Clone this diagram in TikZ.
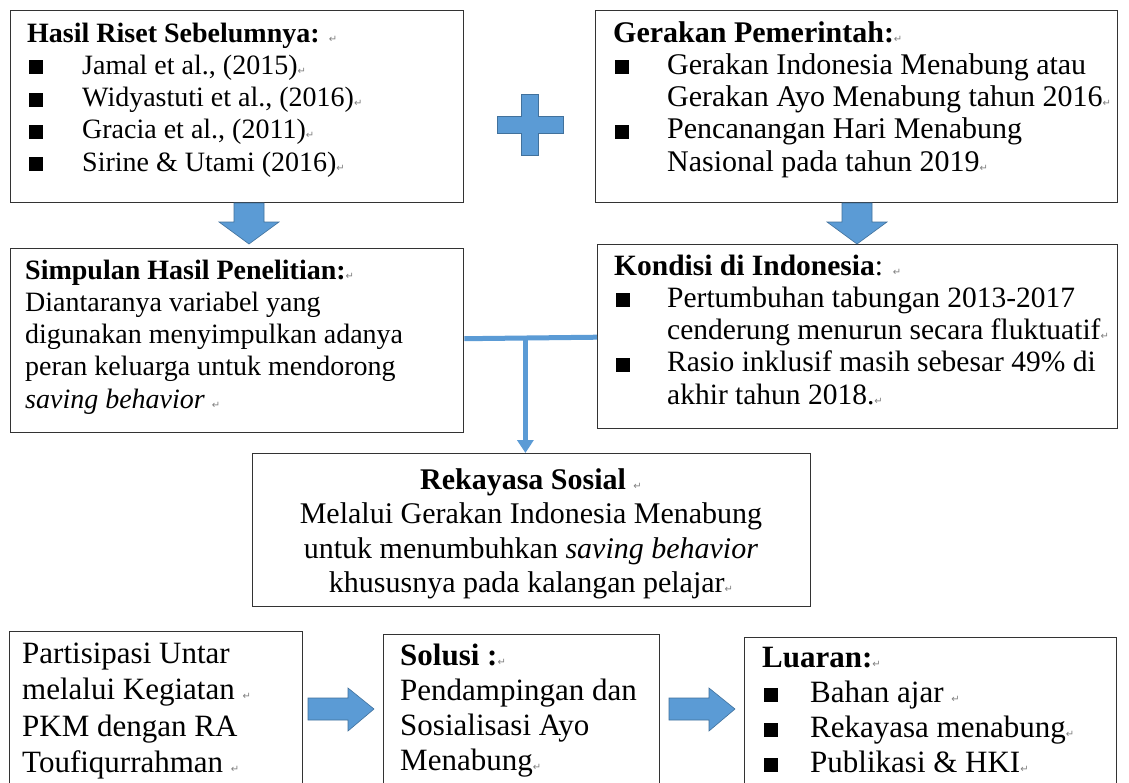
\documentclass[tikz,border=0pt]{standalone}
\usepackage{fontspec}
\setmainfont{Liberation Serif}
\newfontfamily\dvsans{DejaVu Sans}
\usetikzlibrary{arrows.meta,calc}
\definecolor{offblue}{HTML}{5B9BD5}
\definecolor{offedge}{HTML}{41719C}
\newcommand\rmark{{\dvsans\fontsize{10}{10}\selectfont\textcolor{black!50}{↵}}}
\newcommand\sqb[1]{\makebox[#1][l]{\hspace{2pt}\rule{14pt}{14pt}}}
\newcommand\tstr[1]{\rule{0pt}{#1}}
\begin{document}
\begin{tikzpicture}[x=1pt,y=-1pt,
  box/.style={draw=black!80, line width=1.4pt, anchor=north west, inner sep=0pt, fill=white},
  txt/.style={anchor=north west, inner sep=0pt, align=left, font=\fontsize{28}{32.2}\selectfont},
  ctxt/.style={anchor=north, inner sep=0pt, align=center, font=\fontsize{30}{34.5}\selectfont},
  btxt/.style={anchor=north west, inner sep=0pt, align=left, font=\fontsize{31}{36.5}\selectfont},
  blk/.style={fill=offblue, draw=offedge, line width=0.6pt, line join=miter},
  conn/.style={draw=offblue, line width=5pt},
  downblk/.pic={\path[blk] (-15,0) -- (15,0) -- (15,19) -- (30,19) -- (0,41) -- (-30,19) -- (-15,19) -- cycle;},
  rightblk/.pic={\path[blk] (0,-11) -- (40,-11) -- (40,-21) -- (66,0) -- (40,22) -- (40,11) -- (0,11) -- cycle;},
  plusblk/.pic={\path[blk] (-8.5,-31) -- (8.5,-31) -- (8.5,-8.5) -- (33,-8.5) -- (33,8.5) -- (8.5,8.5) -- (8.5,30) -- (-8.5,30) -- (-8.5,8.5) -- (-33,8.5) -- (-33,-8.5) -- (-8.5,-8.5) -- cycle;}
]
\useasboundingbox (0,0) rectangle (1129,782);
\fill[white] (0,0) rectangle (1129,782);

% boxes
\node[box, minimum width=453pt, minimum height=192pt] (A) at (10,10) {};
\node[box, minimum width=522pt, minimum height=192pt] (B) at (595,10) {};
\node[box, minimum width=453pt, minimum height=184pt] (C) at (10,248) {};
\node[box, minimum width=520pt, minimum height=184pt] (D) at (597,244) {};
\node[box, minimum width=558pt, minimum height=153pt] (E) at (252,453) {};
\node[box, minimum width=293pt, minimum height=200pt] (F) at (9,631) {};
\node[box, minimum width=276pt, minimum height=200pt] (G) at (383,634) {};
\node[box, minimum width=372pt, minimum height=200pt] (H) at (744,637) {};

% texts
\node[txt] (Atxt) at (27,18) {\tstr{24pt}\textbf{Hasil Riset Sebelumnya:} \rmark\\
\sqb{55pt}Jamal et al., (2015)\rmark\\
\sqb{55pt}Widyastuti et al., (2016)\rmark\\
\sqb{55pt}Gracia et al., (2011)\rmark\\
\sqb{55pt}Sirine \& Utami (2016)\rmark};

\node[txt, font=\fontsize{30}{32.2}\selectfont] (Btxt) at (613,17) {\tstr{25pt}\textbf{Gerakan Pemerintah:}\rmark\\
\sqb{54pt}Gerakan Indonesia Menabung atau\\
\hspace*{54pt}Gerakan Ayo Menabung tahun 2016\rmark\\
\sqb{54pt}Pencanangan Hari Menabung\\
\hspace*{54pt}Nasional pada tahun 2019\rmark};

\node[txt] (Ctxt) at (25,255) {\tstr{24pt}\textbf{Simpulan Hasil Penelitian:}\rmark\\
Diantaranya variabel yang\\
digunakan menyimpulkan adanya\\
peran keluarga untuk mendorong\\
\textit{saving behavior} \rmark};

\node[txt, font=\fontsize{29.5}{32.2}\selectfont] (Dtxt) at (614,250) {\tstr{25pt}\textbf{Kondisi di Indonesia}: \rmark\\
\sqb{53pt}Pertumbuhan tabungan 2013-2017\\
\hspace*{53pt}cenderung menurun secara fluktuatif\rmark\\
\sqb{53pt}Rasio inklusif masih sebesar 49\% di\\
\hspace*{53pt}akhir tahun 2018.\rmark};

\node[ctxt] (Etxt) at (531,463) {\tstr{26pt}\textbf{Rekayasa Sosial} \rmark\\
Melalui Gerakan Indonesia Menabung\\
untuk menumbuhkan \textit{saving behavior}\\
khususnya pada kalangan pelajar\rmark};

\node[btxt] (Ftxt) at (22,636) {\tstr{27pt}Partisipasi Untar\\
melalui Kegiatan \rmark\\
PKM dengan RA\\
Toufiqurrahman \rmark};

\node[btxt, font=\fontsize{31}{35}\selectfont] (Gtxt) at (400,638) {\tstr{27pt}\textbf{Solusi :}\rmark\\
Pendampingan dan\\
Sosialisasi Ayo\\
Menabung\rmark};

\node[btxt, font=\fontsize{31}{35}\selectfont] (Htxt) at (762,640) {\tstr{27pt}\textbf{Luaran:}\rmark\\
\sqb{48pt}Bahan ajar \rmark\\
\sqb{48pt}Rekayasa menabung\rmark\\
\sqb{48pt}Publikasi \& HKI\rmark};

% block arrows and plus
\pic at (530,125) {plusblk};
\pic at (249,203) {downblk};
\pic at (857,203) {downblk};
\pic at (308,709) {rightblk};
\pic at (669,709) {rightblk};

% connectors
\draw[conn] ([yshift=2pt]C.east) -- ([yshift=-0.5pt]D.west);
\coordinate (J) at ($([yshift=2pt]C.east)!0.46!([yshift=-0.5pt]D.west)$);
\draw[draw=offblue, line width=4.5pt, -{Triangle[length=13pt,width=16pt]}] (J) -- (J |- E.north);
\end{tikzpicture}
\end{document}
